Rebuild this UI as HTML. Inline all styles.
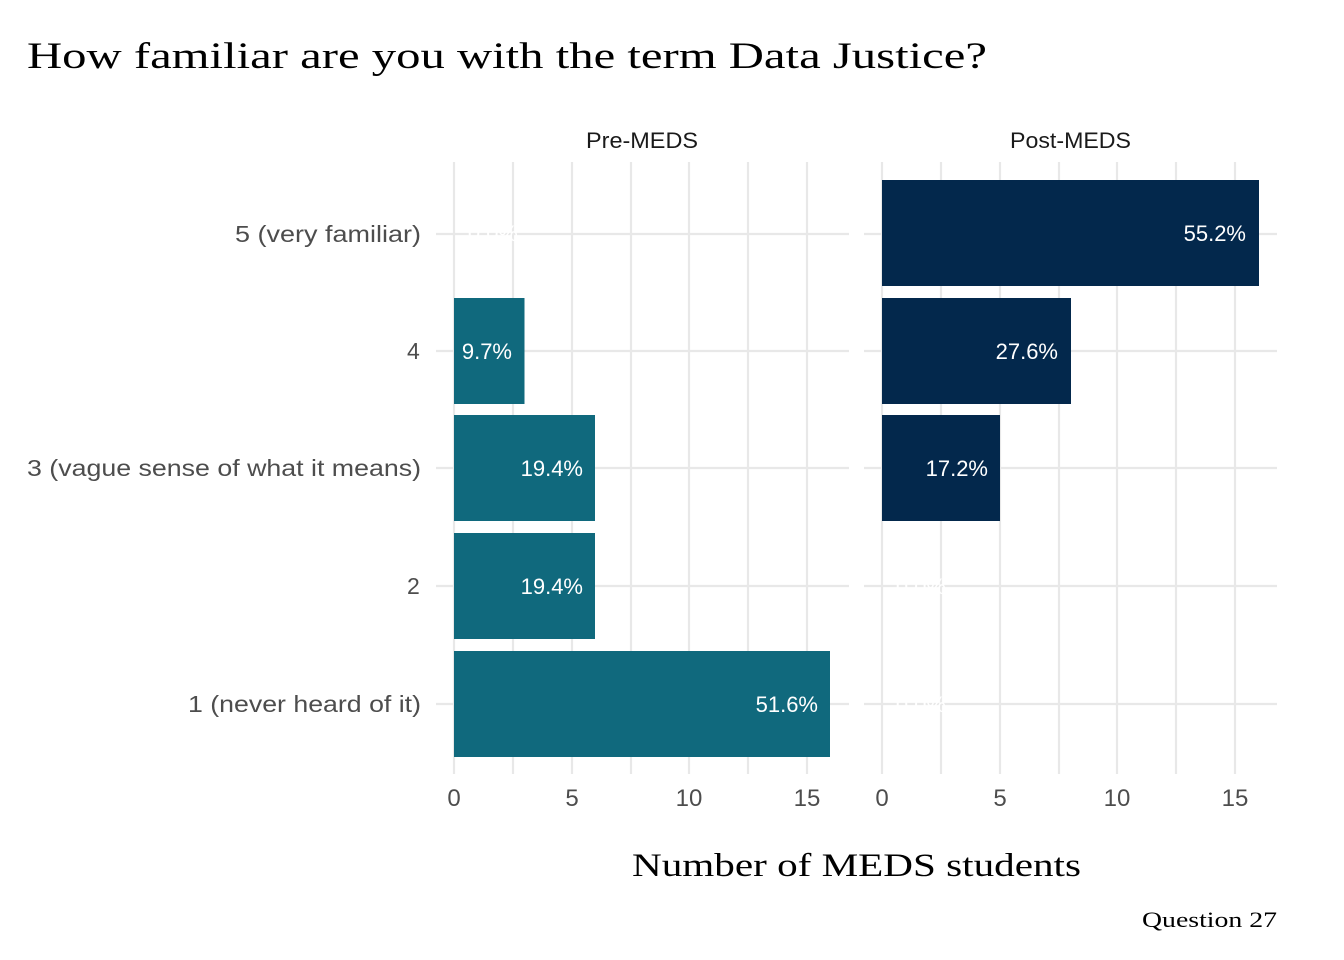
<!DOCTYPE html>
<html><head><meta charset="utf-8"><style>
html,body{margin:0;padding:0;background:#fff;}
svg{display:block;}
</style></head><body>
<svg width="1344" height="960" viewBox="0 0 1344 960" xmlns="http://www.w3.org/2000/svg">
<rect width="1344" height="960" fill="#fff"/>
<text x="27" y="68" font-family="Liberation Serif, serif" font-size="37" fill="#000" textLength="960" lengthAdjust="spacingAndGlyphs">How familiar are you with the term Data Justice?</text>
<text x="586" y="148" font-family="Liberation Sans, sans-serif" font-size="22" fill="#1a1a1a" textLength="112" lengthAdjust="spacingAndGlyphs">Pre-MEDS</text>
<text x="1010" y="148" font-family="Liberation Sans, sans-serif" font-size="22" fill="#1a1a1a" textLength="121" lengthAdjust="spacingAndGlyphs">Post-MEDS</text>
<g stroke="#e8e8e8" stroke-width="2.2">
  <line x1="436" y1="234" x2="849" y2="234"/><line x1="436" y1="351" x2="849" y2="351"/><line x1="436" y1="468" x2="849" y2="468"/><line x1="436" y1="586" x2="849" y2="586"/><line x1="436" y1="704" x2="849" y2="704"/>
  <line x1="454" y1="162" x2="454" y2="774"/><line x1="513" y1="162" x2="513" y2="774"/><line x1="572" y1="162" x2="572" y2="774"/><line x1="631" y1="162" x2="631" y2="774"/><line x1="689" y1="162" x2="689" y2="774"/><line x1="748" y1="162" x2="748" y2="774"/><line x1="807" y1="162" x2="807" y2="774"/>
  <line x1="864" y1="234" x2="1277" y2="234"/><line x1="864" y1="351" x2="1277" y2="351"/><line x1="864" y1="468" x2="1277" y2="468"/><line x1="864" y1="586" x2="1277" y2="586"/><line x1="864" y1="704" x2="1277" y2="704"/>
  <line x1="882" y1="162" x2="882" y2="774"/><line x1="941" y1="162" x2="941" y2="774"/><line x1="1000" y1="162" x2="1000" y2="774"/><line x1="1059" y1="162" x2="1059" y2="774"/><line x1="1117" y1="162" x2="1117" y2="774"/><line x1="1176" y1="162" x2="1176" y2="774"/><line x1="1235" y1="162" x2="1235" y2="774"/>
</g>
<g fill="#10697d">
  <rect x="454" y="298" width="70.5" height="106"/>
  <rect x="454" y="415" width="141" height="106"/>
  <rect x="454" y="533" width="141" height="106"/>
  <rect x="454" y="651" width="376" height="106"/>
</g>
<g fill="#03284c">
  <rect x="882" y="180" width="377" height="106"/>
  <rect x="882" y="298" width="189" height="106"/>
  <rect x="882" y="415" width="118" height="106"/>
</g>
<g font-family="Liberation Sans, sans-serif" font-size="22" fill="#fff" text-anchor="end">
  <text x="518" y="241">0.0%</text>
  <text x="512" y="359">9.7%</text>
  <text x="583" y="476">19.4%</text>
  <text x="583" y="594">19.4%</text>
  <text x="818" y="712">51.6%</text>
  <text x="1246" y="241">55.2%</text>
  <text x="1058" y="359">27.6%</text>
  <text x="988" y="476">17.2%</text>
  <text x="946" y="594">0.0%</text>
  <text x="946" y="712">0.0%</text>
</g>
<g font-family="Liberation Sans, sans-serif" font-size="23" fill="#4d4d4d" lengthAdjust="spacingAndGlyphs">
  <text x="235" y="242" textLength="186" lengthAdjust="spacingAndGlyphs">5 (very familiar)</text>
  <text x="407" y="359">4</text>
  <text x="27" y="476" textLength="394" lengthAdjust="spacingAndGlyphs">3 (vague sense of what it means)</text>
  <text x="407" y="594">2</text>
  <text x="188" y="712" textLength="233" lengthAdjust="spacingAndGlyphs">1 (never heard of it)</text>
</g>
<g font-family="Liberation Sans, sans-serif" font-size="24" fill="#4d4d4d" text-anchor="middle">
  <text x="454" y="806">0</text><text x="572" y="806">5</text><text x="689" y="806">10</text><text x="807" y="806">15</text>
  <text x="882" y="806">0</text><text x="1000" y="806">5</text><text x="1117" y="806">10</text><text x="1235" y="806">15</text>
</g>
<text x="632" y="876" font-family="Liberation Serif, serif" font-size="33" fill="#000" textLength="449" lengthAdjust="spacingAndGlyphs">Number of MEDS students</text>
<text x="1142" y="927" font-family="Liberation Serif, serif" font-size="22" fill="#000" textLength="135" lengthAdjust="spacingAndGlyphs">Question 27</text>
</svg>
</body></html>
